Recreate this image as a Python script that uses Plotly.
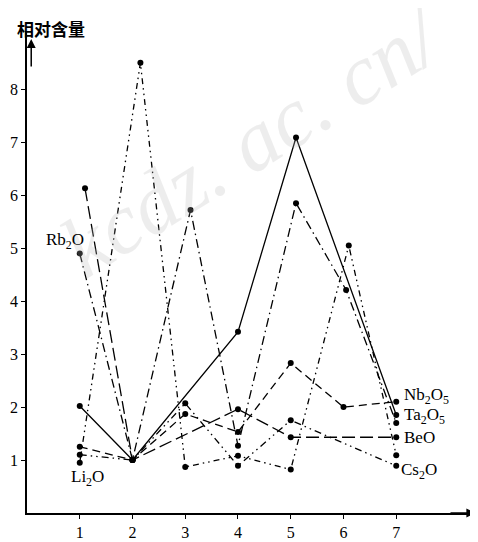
import plotly.graph_objects as go

# Data (x position, relative content)
li2o_x = [1, 2.15, 3, 4, 5, 6.1, 7]
li2o_y = [0.95, 8.5, 0.87, 1.08, 0.82, 5.05, 1.09]

rb2o_x = [1, 2, 3.1, 4, 5.1, 6.05, 7]
rb2o_y = [4.9, 1.0, 5.72, 1.27, 5.85, 4.21, 1.70]

beo_x = [1.1, 2, 4, 5, 7]
beo_y = [6.13, 1.0, 1.96, 1.43, 1.43]

nb2o5_x = [1, 2, 3, 4, 5, 6, 7]
nb2o5_y = [1.25, 1.0, 1.87, 1.53, 2.83, 2.0, 2.10]

ta2o5_x = [1, 2, 4, 5.1, 7]
ta2o5_y = [2.02, 1.0, 3.42, 7.09, 1.85]

cs2o_x = [1, 2, 3, 4, 5, 7]
cs2o_y = [1.1, 1.0, 2.07, 0.89, 1.75, 0.89]

x_ticks = [1, 2, 3, 4, 5, 6, 7]
y_ticks = [1, 2, 3, 4, 5, 6, 7, 8]

series = [
    ("Li2O", li2o_x, li2o_y, "6px,4px,1.5px,4px,1.5px,4px"),
    ("Rb2O", rb2o_x, rb2o_y, "9px,4px,1.5px,4px"),
    ("BeO", beo_x, beo_y, "13px,5px"),
    ("Nb2O5", nb2o5_x, nb2o5_y, "8px,5px"),
    ("Ta2O5", ta2o5_x, ta2o5_y, "solid"),
    ("Cs2O", cs2o_x, cs2o_y, "7px,4px,1.5px,4px,1.5px,4px"),
]

fig = go.Figure()

serif = "Liberation Serif"

# faint watermark (as in the scanned reference)
fig.add_annotation(x=0.5, y=1.1, xref="paper", yref="paper", text="<i>kcdz. ac. cn/</i>",
                   showarrow=False, textangle=-32, opacity=0.25,
                   font=dict(family=serif, size=86, color="#bbbbbb"))

for name, xs, ys, dash in series:
    fig.add_trace(go.Scatter(
        x=xs, y=ys, mode="lines+markers", name=name,
        line=dict(color="black", width=1.3, dash=dash),
        marker=dict(color="black", size=6),
        showlegend=False,
    ))

labels = [
    ("Rb<sub>2</sub>O", 1.12, 5.13, "right"),
    ("Li<sub>2</sub>O", 1.15, 0.66, "center"),
    ("Nb<sub>2</sub>O<sub>5</sub>", 7.1, 2.2, "left"),
    ("Ta<sub>2</sub>O<sub>5</sub>", 7.1, 1.83, "left"),
    ("BeO", 7.1, 1.43, "left"),
    ("Cs<sub>2</sub>O", 7.05, 0.8, "left"),
]
for txt, x, y, anc in labels:
    fig.add_annotation(x=x, y=y, text=txt, showarrow=False, xanchor=anc,
                       yanchor="middle", font=dict(family=serif, size=17, color="black"))

# axis arrows
fig.add_annotation(x=8.5, y=0, ax=8.0, ay=0, axref="x", ayref="y", xref="x", yref="y",
                   text="", showarrow=True, arrowhead=2, arrowsize=1.2, arrowwidth=1.5,
                   arrowcolor="black")
fig.add_annotation(x=0.08, y=8.95, ax=0.08, ay=8.4, axref="x", ayref="y", xref="x", yref="y",
                   text="", showarrow=True, arrowhead=2, arrowsize=1.2, arrowwidth=1.5,
                   arrowcolor="black")

# y-axis title
fig.add_annotation(x=0.053, y=1.006, xref="paper", yref="paper", text="<b>相对含量</b>",
                   showarrow=False, xanchor="center", yanchor="middle",
                   font=dict(family="Noto Sans CJK SC", size=17, color="black"))

fig.update_xaxes(range=[0, 8.55], tickvals=x_ticks, ticktext=[str(v) for v in x_ticks],
                 showline=True, linecolor="black", linewidth=1.5, ticks="outside",
                 ticklen=4, tickcolor="black", showgrid=False, zeroline=False,
                 tickfont=dict(family=serif, size=16, color="black"))
fig.update_yaxes(range=[0, 9.1], tickvals=y_ticks, ticktext=[str(v) for v in y_ticks],
                 showline=True, linecolor="black", linewidth=1.5, ticks="outside",
                 ticklen=4, tickcolor="black", showgrid=False, zeroline=False,
                 tickfont=dict(family=serif, size=16, color="black"))

fig.update_layout(width=470, height=534, margin=dict(l=19, r=0, t=23, b=29),
                  plot_bgcolor="white", paper_bgcolor="white")

fig.write_html("out.html")
